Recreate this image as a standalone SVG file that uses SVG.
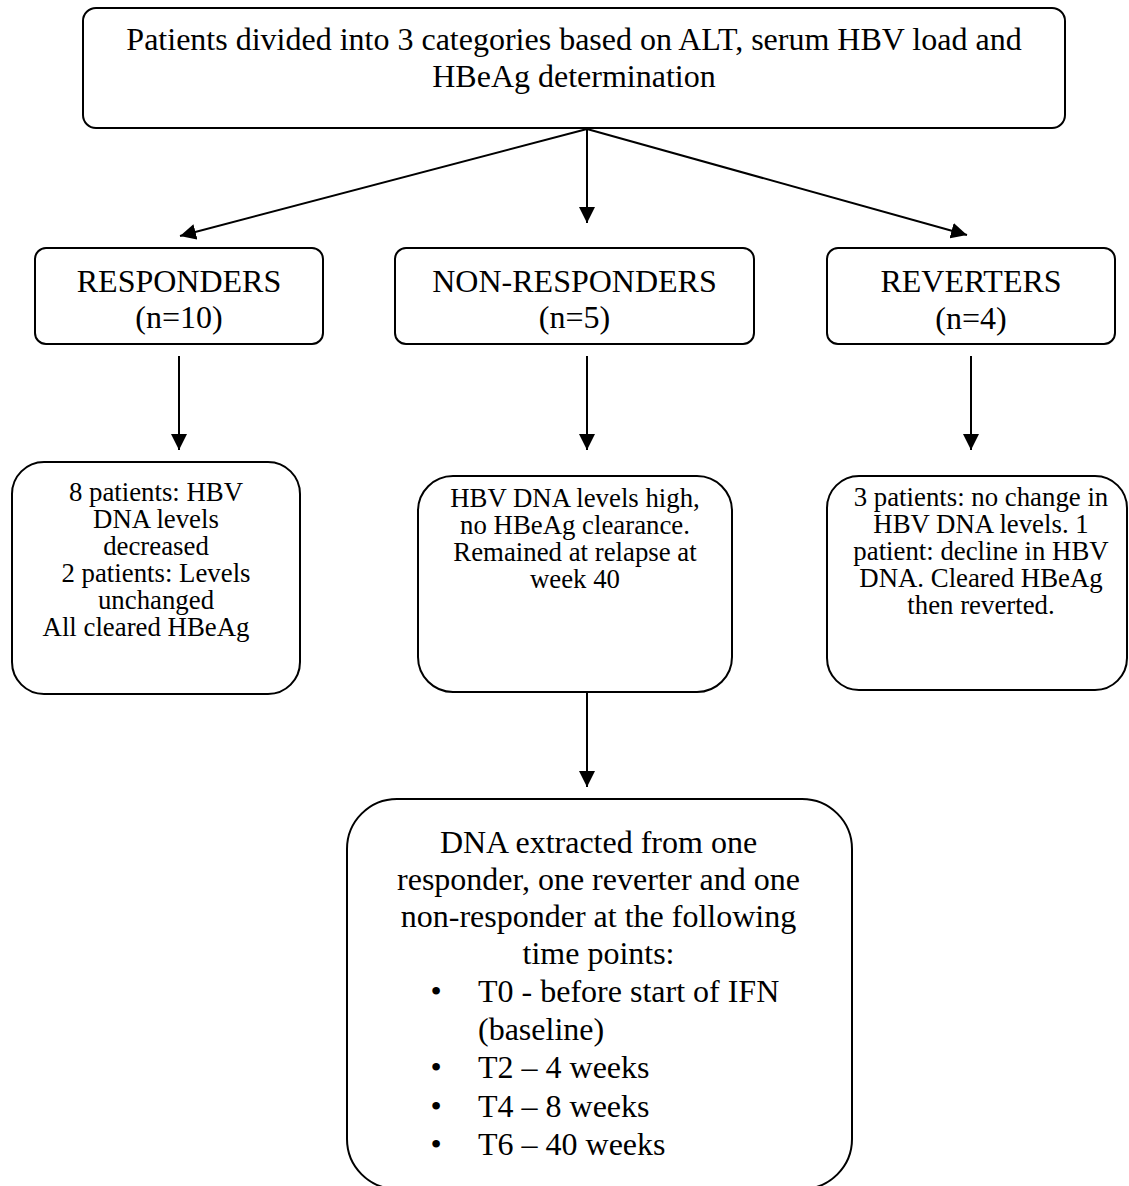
<svg xmlns="http://www.w3.org/2000/svg" width="1129" height="1186" viewBox="0 0 1129 1186">
<style>
.box{fill:#fff;stroke:#000;stroke-width:2}
.t{font-family:"Liberation Serif","Times New Roman",serif;fill:#000;text-anchor:middle}
.h{font-size:32px}
.s{font-size:26.8px}
.conn line{stroke:#000;stroke-width:2}
.l{text-anchor:start}
</style>
<defs>
<marker id="a" viewBox="0 0 16 16" refX="16" refY="8" markerWidth="16" markerHeight="16" markerUnits="userSpaceOnUse" orient="auto">
<path d="M0,0 L16,8 L0,16 z" fill="#000"/>
</marker>
</defs>
<rect width="1129" height="1186" fill="#fff"/>
<g id="top">
<rect class="box" x="83" y="8" width="982" height="120" rx="13"/>
<text class="t h" x="574" y="50">Patients divided into 3 categories based on ALT, serum HBV load and</text>
<text class="t h" x="574" y="87">HBeAg determination</text>
</g>
<g id="responders">
<rect class="box" x="35" y="248" width="288" height="96" rx="11"/>
<text class="t h" x="179" y="292">RESPONDERS</text>
<text class="t h" x="179" y="328">(n=10)</text>
</g>
<g id="nonresponders">
<rect class="box" x="395" y="248" width="359" height="96" rx="11"/>
<text class="t h" x="574.5" y="292">NON-RESPONDERS</text>
<text class="t h" x="574.5" y="328">(n=5)</text>
</g>
<g id="reverters">
<rect class="box" x="827" y="248" width="288" height="96" rx="11"/>
<text class="t h" x="971" y="292">REVERTERS</text>
<text class="t h" x="971" y="329">(n=4)</text>
</g>
<g id="responders-detail">
<rect class="box" x="12" y="462" width="288" height="232" rx="32"/>
<text class="t s" x="156" y="501">8 patients: HBV</text>
<text class="t s" x="156" y="528">DNA levels</text>
<text class="t s" x="156" y="555">decreased</text>
<text class="t s" x="156" y="582">2 patients: Levels</text>
<text class="t s" x="156" y="609">unchanged</text>
<text class="t s" x="146" y="636">All cleared HBeAg</text>
</g>
<g id="nonresponders-detail">
<rect class="box" x="418" y="476" width="314" height="216" rx="35"/>
<text class="t s" x="575" y="507">HBV DNA levels high,</text>
<text class="t s" x="575" y="534">no HBeAg clearance.</text>
<text class="t s" x="575" y="561">Remained at relapse at</text>
<text class="t s" x="575" y="588">week 40</text>
</g>
<g id="reverters-detail">
<rect class="box" x="827" y="476" width="300" height="214" rx="32"/>
<text class="t s" x="981" y="506">3 patients: no change in</text>
<text class="t s" x="981" y="533">HBV DNA levels. 1</text>
<text class="t s" x="981" y="560">patient: decline in HBV</text>
<text class="t s" x="981" y="587">DNA. Cleared HBeAg</text>
<text class="t s" x="981" y="614">then reverted.</text>
</g>
<g id="extraction">
<rect class="box" x="347" y="799" width="505" height="390" rx="50"/>
<text class="t h" x="598.5" y="853">DNA extracted from one</text>
<text class="t h" x="598.5" y="890">responder, one reverter and one</text>
<text class="t h" x="598.5" y="927">non-responder at the following</text>
<text class="t h" x="598.5" y="964">time points:</text>
<text class="t h" x="436" y="1002">•</text>
<text class="t h l" x="478" y="1002">T0 - before start of IFN</text>
<text class="t h l" x="478" y="1040">(baseline)</text>
<text class="t h" x="436" y="1078">•</text>
<text class="t h l" x="478" y="1078">T2 – 4 weeks</text>
<text class="t h" x="436" y="1117">•</text>
<text class="t h l" x="478" y="1117">T4 – 8 weeks</text>
<text class="t h" x="436" y="1155">•</text>
<text class="t h l" x="478" y="1155">T6 – 40 weeks</text>
</g>
<g id="connectors" class="conn">
<line x1="587" y1="129" x2="180" y2="236" marker-end="url(#a)"/>
<line x1="587" y1="129" x2="587" y2="223" marker-end="url(#a)"/>
<line x1="587" y1="129" x2="967" y2="235" marker-end="url(#a)"/>
<line x1="179" y1="356" x2="179" y2="450" marker-end="url(#a)"/>
<line x1="587" y1="356" x2="587" y2="450" marker-end="url(#a)"/>
<line x1="971" y1="356" x2="971" y2="450" marker-end="url(#a)"/>
<line x1="587" y1="692" x2="587" y2="787" marker-end="url(#a)"/>
</g>
</svg>
